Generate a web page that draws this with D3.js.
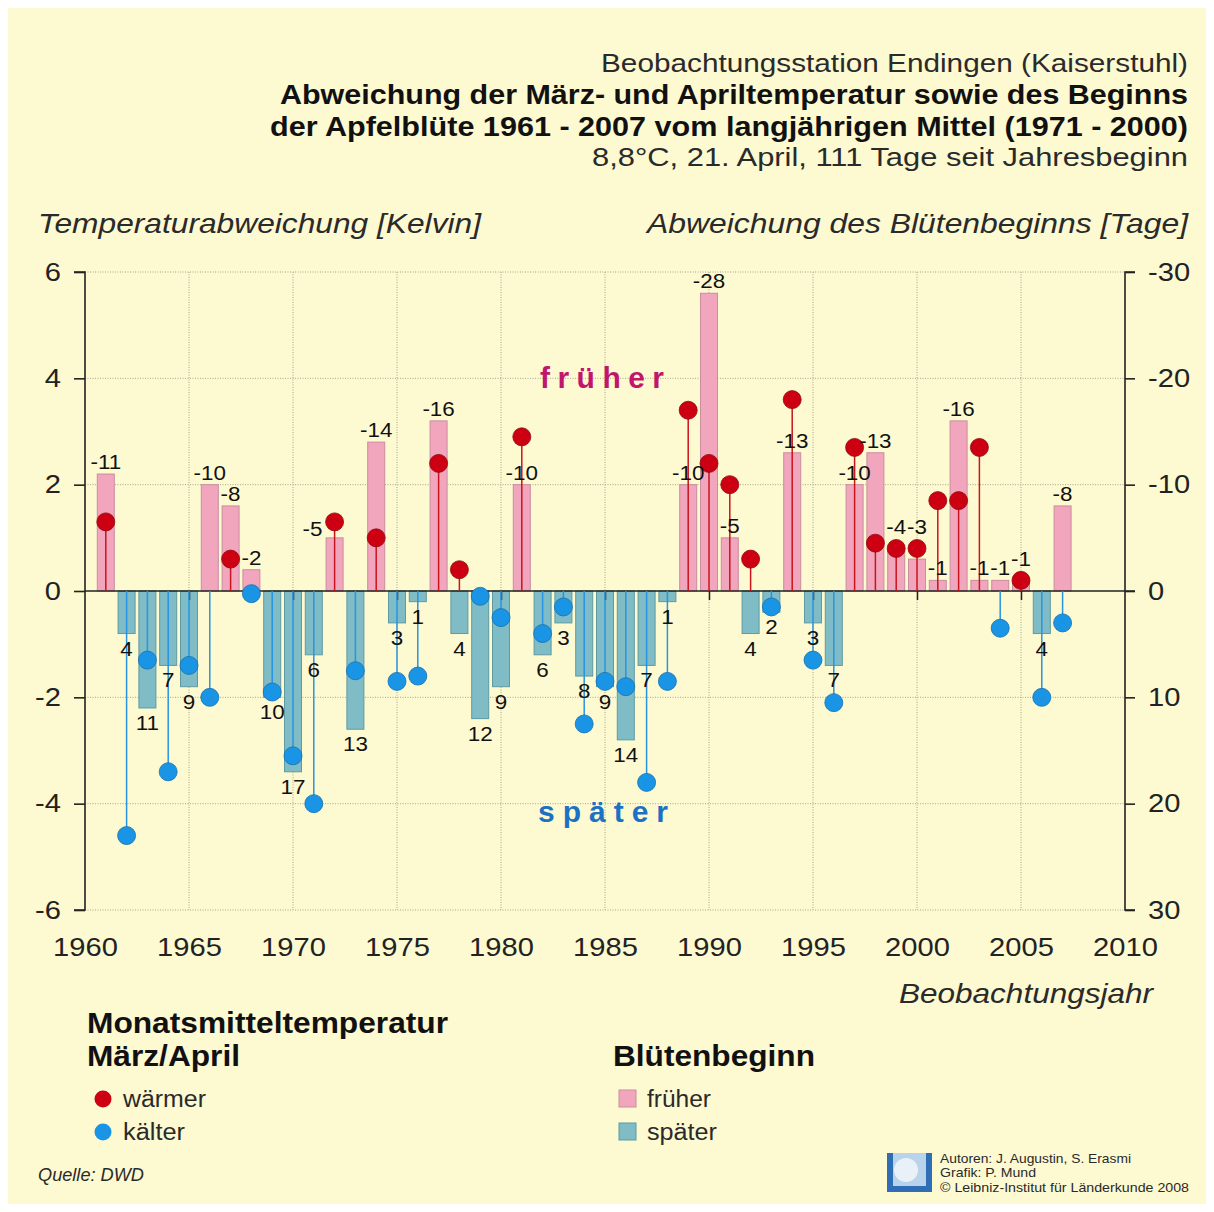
<!DOCTYPE html>
<html>
<head>
<meta charset="utf-8">
<script src="https://cdn.jsdelivr.net/npm/d3@7"></script>
<style>
  body { margin: 0; background: #fff; }
  svg { display: block; font-family: "Liberation Sans", Arial, sans-serif; }
</style>
</head>
<body>
<svg id="chart" width="1214" height="1212"></svg>
<script>
// years 1961 - 2007
const years = d3.range(1961, 2008);

// deviation of apple blossom start (days, negative = earlier)
const bloomDays = [
  -11, 4, 11, 7, 9, -10, -8, -2, 10, 17,
  6, -5, 13, -14, 3, 1, -16, 4, 12, 9,
  -10, 6, 3, 8, 9, 14, 7, 1, -10, -28,
  -5, 4, 2, -13, 3, 7, -10, -13, -4, -3,
  -1, -16, -1, -1, -1, 4, -8
];

// deviation of March/April mean temperature (Kelvin)
const tempDev = [
  1.3, -4.6, -1.3, -3.4, -1.4, -2.0, 0.6, -0.05, -1.9, -3.1,
  -4.0, 1.3, -1.5, 1.0, -1.7, -1.6, 2.4, 0.4, -0.1, -0.5,
  2.9, -0.8, -0.3, -2.5, -1.7, -1.8, -3.6, -1.7, 3.4, 2.4,
  2.0, 0.6, -0.3, 3.6, -1.3, -2.1, 2.7, 0.9, 0.8, 0.8,
  1.7, 1.7, 2.7, -0.7, 0.2, -2.0, -0.6
];

const tempTicks = [-6, -4, -2, 0, 2, 4, 6];
const dayTicks = [-30, -20, -10, 0, 10, 20, 30];
const yearTicks = [1960, 1965, 1970, 1975, 1980, 1985, 1990, 1995, 2000, 2005, 2010];

const data = years.map((yr, i) => ({ year: yr, days: bloomDays[i], temp: tempDev[i] }));

const svg = d3.select("#chart");
const ff = "Liberation Sans, Arial, sans-serif";

// cream panel
svg.append("rect")
  .attr("x", 8).attr("y", 8)
  .attr("width", 1198).attr("height", 1196)
  .attr("fill", "#fdf9d1");

const x = d3.scaleLinear().domain([1960, 2010]).range([85, 1125]);
const yT = d3.scaleLinear().domain([-6, 6]).range([910, 272]);
const yD = d3.scaleLinear().domain([30, -30]).range([910, 272]);

const gridColor = "#aaa68c";

// grid
svg.append("g")
  .selectAll("line")
  .data(tempTicks.filter(d => d !== 0))
  .join("line")
  .attr("x1", x(1960)).attr("x2", x(2010))
  .attr("y1", d => yT(d)).attr("y2", d => yT(d))
  .attr("stroke", gridColor).attr("stroke-width", 1)
  .attr("stroke-dasharray", "1,1.5");

svg.append("g")
  .selectAll("line")
  .data(yearTicks.filter(d => d > 1960 && d < 2010))
  .join("line")
  .attr("x1", d => x(d)).attr("x2", d => x(d))
  .attr("y1", yT(6)).attr("y2", yT(-6))
  .attr("stroke", gridColor).attr("stroke-width", 1)
  .attr("stroke-dasharray", "1,1.5");

// bars (bloom deviation, right axis)
const barW = 17;
svg.append("g")
  .selectAll("rect")
  .data(data)
  .join("rect")
  .attr("x", d => x(d.year) - barW / 2)
  .attr("width", barW)
  .attr("y", d => Math.min(yD(d.days), yD(0)))
  .attr("height", d => Math.abs(yD(d.days) - yD(0)))
  .attr("fill", d => d.days < 0 ? "#f2a6bd" : "#7fbcc5")
  .attr("stroke", d => d.days < 0 ? "#c98ea0" : "#5f9aa3")
  .attr("stroke-width", 1);

// zero line with small year ticks
svg.append("g")
  .attr("transform", `translate(0,${yT(0)})`)
  .call(d3.axisBottom(x).tickValues(yearTicks.filter(d => d > 1960 && d < 2010)).tickSize(9).tickFormat(""))
  .call(g => g.select(".domain").remove())
  .call(g => g.selectAll("line").attr("stroke", "#222").attr("stroke-width", 1.5));

svg.append("line")
  .attr("x1", x(1960)).attr("x2", x(2010) + 10)
  .attr("y1", yT(0)).attr("y2", yT(0))
  .attr("stroke", "#222").attr("stroke-width", 1.6);

// stems + dots (temperature, left axis)
svg.append("g")
  .selectAll("line")
  .data(data)
  .join("line")
  .attr("x1", d => x(d.year)).attr("x2", d => x(d.year))
  .attr("y1", yT(0)).attr("y2", d => yT(d.temp))
  .attr("stroke", d => d.temp >= 0 ? "#c8141c" : "#2894e2")
  .attr("stroke-width", 1.5);

svg.append("g")
  .selectAll("circle")
  .data(data)
  .join("circle")
  .attr("cx", d => x(d.year))
  .attr("cy", d => yT(d.temp))
  .attr("r", 9)
  .attr("fill", d => d.temp >= 0 ? "#cc0012" : "#1a95e6")
  .attr("stroke", d => d.temp >= 0 ? "#8e0a10" : "#1470b0")
  .attr("stroke-width", 0.8);

// bar value labels, nudged away from a dot that would cover them
function labelPos(d) {
  const cx = x(d.year);
  const dotY = yT(d.temp);
  if (d.days < 0) {
    const top = yD(d.days);
    let ly = top - 5;
    if (dotY > ly - 26 && dotY < ly + 12) {
      if (dotY < top - 14) return { x: cx - 22, y: top - 2 };
      ly = dotY - 14;
    }
    return { x: cx, y: ly };
  }
  return { x: cx, y: yD(d.days) + 22 };
}

svg.append("g")
  .selectAll("text")
  .data(data)
  .join("text")
  .attr("x", d => labelPos(d).x)
  .attr("y", d => labelPos(d).y)
  .attr("text-anchor", "middle")
  .attr("font-size", 20)
  .attr("fill", "#111")
  .text(d => String(d.days));

// left axis
svg.append("g")
  .attr("transform", `translate(${x(1960)},0)`)
  .call(d3.axisLeft(yT).tickValues(tempTicks).tickSize(11).tickPadding(13).tickFormat(d => String(d)))
  .call(g => g.select(".domain").attr("stroke", "#222").attr("stroke-width", 1.6).attr("d", `M-11,${yT(6)}H0V${yT(-6)}H-11`))
  .call(g => g.selectAll("line").attr("stroke", "#222").attr("stroke-width", 1.6))
  .call(g => g.selectAll("text").attr("font-size", 26).attr("fill", "#222").attr("font-family", ff));

// right axis
svg.append("g")
  .attr("transform", `translate(${x(2010)},0)`)
  .call(d3.axisRight(yD).tickValues(dayTicks).tickSize(10).tickPadding(13).tickFormat(d => String(d)))
  .call(g => g.select(".domain").attr("stroke", "#222").attr("stroke-width", 1.6).attr("d", `M10,${yD(-30)}H0V${yD(30)}H10`))
  .call(g => g.selectAll("line").attr("stroke", "#222").attr("stroke-width", 1.6))
  .call(g => g.selectAll("text").attr("font-size", 26).attr("fill", "#222").attr("font-family", ff));

// x axis labels
svg.append("g")
  .attr("transform", `translate(0,${yT(-6)})`)
  .call(d3.axisBottom(x).tickValues(yearTicks).tickSize(0).tickPadding(28).tickFormat(d => String(d)))
  .call(g => g.select(".domain").remove())
  .call(g => g.selectAll("text").attr("font-size", 26).attr("fill", "#222").attr("font-family", ff));

// titles and legend text; width = measured width in the original
const txt = (x0, y0, s, size, width, opts = {}) => svg.append("text")
  .attr("x", x0).attr("y", y0)
  .attr("font-size", size)
  .attr("text-anchor", opts.anchor || "start")
  .attr("font-weight", opts.bold ? "bold" : "normal")
  .attr("font-style", opts.italic ? "italic" : "normal")
  .attr("fill", opts.fill || "#1a1a1a")
  .attr("textLength", width)
  .attr("lengthAdjust", opts.adjust || "spacingAndGlyphs")
  .text(s);

// in-chart annotations
txt(602, 388, "früher", 30, 124, { anchor: "middle", bold: true, adjust: "spacing", fill: "#c2156e" });
txt(603, 822, "später", 30, 130, { anchor: "middle", bold: true, adjust: "spacing", fill: "#1b72c4" });

txt(1188, 72, "Beobachtungsstation Endingen (Kaiserstuhl)", 26, 587, { anchor: "end", fill: "#2a2a2a" });
txt(1188, 104, "Abweichung der März- und Apriltemperatur sowie des Beginns", 27, 908, { anchor: "end", bold: true, fill: "#111" });
txt(1188, 136, "der Apfelblüte 1961 - 2007 vom langjährigen Mittel (1971 - 2000)", 27, 918, { anchor: "end", bold: true, fill: "#111" });
txt(1188, 166, "8,8°C, 21. April, 111 Tage seit Jahresbeginn", 26, 596, { anchor: "end", fill: "#2a2a2a" });

txt(38, 233, "Temperaturabweichung [Kelvin]", 28, 443, { italic: true, fill: "#2a2a2a" });
txt(1188, 233, "Abweichung des Blütenbeginns [Tage]", 28, 541, { anchor: "end", italic: true, fill: "#2a2a2a" });
txt(1153, 1003, "Beobachtungsjahr", 28, 254, { anchor: "end", italic: true, fill: "#2a2a2a" });

// legend: temperature
txt(87, 1033, "Monatsmitteltemperatur", 30, 361, { bold: true, fill: "#111" });
txt(87, 1066, "März/April", 30, 153, { bold: true, fill: "#111" });
svg.append("circle").attr("cx", 103).attr("cy", 1099).attr("r", 8.5).attr("fill", "#cc0012");
txt(123, 1107, "wärmer", 23, 83, { fill: "#2a2a2a" });
svg.append("circle").attr("cx", 103).attr("cy", 1132).attr("r", 8.5).attr("fill", "#1a95e6");
txt(123, 1140, "kälter", 23, 62, { fill: "#2a2a2a" });

// legend: bloom
txt(613, 1066, "Blütenbeginn", 30, 202, { bold: true, fill: "#111" });
svg.append("rect").attr("x", 619).attr("y", 1090).attr("width", 17).attr("height", 17)
  .attr("fill", "#f2a6bd").attr("stroke", "#c98ea0");
txt(647, 1107, "früher", 23, 64, { fill: "#2a2a2a" });
svg.append("rect").attr("x", 619).attr("y", 1123).attr("width", 17).attr("height", 17)
  .attr("fill", "#7fbcc5").attr("stroke", "#5f9aa3");
txt(647, 1140, "später", 23, 70, { fill: "#2a2a2a" });

txt(38, 1181, "Quelle: DWD", 18, 106, { italic: true, fill: "#2a2a2a" });

// footer logo
const logo = svg.append("g");
logo.append("rect").attr("x", 887).attr("y", 1153).attr("width", 45).attr("height", 39).attr("fill", "#2f6db5");
logo.append("rect").attr("x", 893).attr("y", 1153).attr("width", 33).attr("height", 33).attr("fill", "#b9d3ea");
logo.append("circle").attr("cx", 906).attr("cy", 1170).attr("r", 12).attr("fill", "#e9f1f8");
logo.append("rect").attr("x", 887).attr("y", 1153).attr("width", 6).attr("height", 39).attr("fill", "#2f6db5");
logo.append("rect").attr("x", 926).attr("y", 1153).attr("width", 6).attr("height", 39).attr("fill", "#2f6db5");

txt(940, 1163, "Autoren: J. Augustin, S. Erasmi", 13, 191, { fill: "#2a2a2a" });
txt(940, 1177, "Grafik: P. Mund", 13, 96, { fill: "#2a2a2a" });
txt(940, 1192, "© Leibniz-Institut für Länderkunde 2008", 13, 249, { fill: "#2a2a2a" });

// the original lettering is a bit wider than Arial: stretch numbers the same way
svg.selectAll("text").each(function () {
  if (this.hasAttribute("textLength")) return;
  const w = this.getComputedTextLength();
  this.setAttribute("textLength", w * 1.12);
  this.setAttribute("lengthAdjust", "spacingAndGlyphs");
});
</script>
</body>
</html>
